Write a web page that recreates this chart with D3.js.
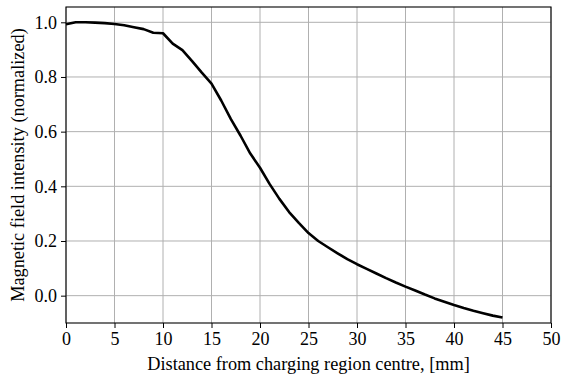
<!DOCTYPE html>
<html>
<head>
<meta charset="utf-8">
<script src="https://cdn.jsdelivr.net/npm/d3@7"></script>
<style>
  body { margin: 0; background: #fff; }
</style>
</head>
<body>
<div id="chart"></div>
<script>
// distance from charging region centre [mm]
const distance = d3.range(0, 46);
// normalized field intensity
const intensity = [
  0.993, 1.000, 1.000, 0.999, 0.997, 0.994, 0.989, 0.982, 0.975, 0.962,
  0.960, 0.922, 0.898, 0.858, 0.816, 0.776, 0.714, 0.646, 0.585, 0.520,
  0.468, 0.408, 0.354, 0.306, 0.266, 0.229, 0.200, 0.177, 0.155, 0.134,
  0.115, 0.098, 0.081, 0.064, 0.048, 0.033, 0.019, 0.004, -0.010, -0.022,
  -0.034, -0.045, -0.055, -0.064, -0.073, -0.080
];
const xTicks = [0, 5, 10, 15, 20, 25, 30, 35, 40, 45, 50];
const yTicks = [0.0, 0.2, 0.4, 0.6, 0.8, 1.0];

const FONT = '"Liberation Serif", "Times New Roman", serif';
const width = 563, height = 379;
const margin = {top: 7, right: 12, bottom: 56, left: 66};

const svg = d3.select("#chart").append("svg")
  .attr("width", width)
  .attr("height", height)
  .style("font-family", FONT);

const x = d3.scaleLinear().domain([0, 50]).range([margin.left, width - margin.right]);
const y = d3.scaleLinear().domain([-0.1, 1.056]).range([height - margin.bottom, margin.top]);

// grid
const grid = svg.append("g").attr("stroke", "#b0b0b0").attr("stroke-width", 1);
grid.selectAll(".gx").data(xTicks).join("line")
  .attr("x1", d => x(d)).attr("x2", d => x(d))
  .attr("y1", y.range()[0]).attr("y2", y.range()[1]);
grid.selectAll(".gy").data(yTicks).join("line")
  .attr("x1", x.range()[0]).attr("x2", x.range()[1])
  .attr("y1", d => y(d)).attr("y2", d => y(d));

// data line
const line = d3.line().x((d, i) => x(distance[i])).y(d => y(d));
svg.append("path")
  .datum(intensity)
  .attr("fill", "none")
  .attr("stroke", "#000")
  .attr("stroke-width", 2.6)
  .attr("stroke-linejoin", "round")
  .attr("d", line);

// axes
const xAxis = svg.append("g")
  .attr("transform", `translate(0,${y.range()[0]})`)
  .call(d3.axisBottom(x).tickValues(xTicks).tickFormat(d3.format("d")).tickSizeOuter(0).tickSize(5).tickPadding(4));
const yAxis = svg.append("g")
  .attr("transform", `translate(${margin.left},0)`)
  .call(d3.axisLeft(y).tickValues(yTicks).tickFormat(d3.format(".1f")).tickSizeOuter(0).tickSize(5).tickPadding(4));
[xAxis, yAxis].forEach(a => {
  a.attr("font-family", null).attr("font-size", null);
  a.selectAll("text").attr("fill", "#000")
    .style("font-family", FONT).style("font-size", "18px");
  a.selectAll("line").attr("stroke", "#000");
  a.select(".domain").remove();
});

// frame
svg.append("rect")
  .attr("x", x.range()[0]).attr("y", y.range()[1])
  .attr("width", x.range()[1] - x.range()[0])
  .attr("height", y.range()[0] - y.range()[1])
  .attr("fill", "none").attr("stroke", "#000").attr("stroke-width", 1.1);

// labels
svg.append("text")
  .attr("x", (x.range()[0] + x.range()[1]) / 2)
  .attr("y", 370)
  .attr("text-anchor", "middle")
  .style("font-size", "18.3px")
  .text("Distance from charging region centre, [mm]");
svg.append("text")
  .attr("transform", `translate(24,${(y.range()[0] + y.range()[1]) / 2}) rotate(-90)`)
  .attr("text-anchor", "middle")
  .style("font-size", "18.3px")
  .text("Magnetic field intensity (normalized)");
</script>
</body>
</html>
